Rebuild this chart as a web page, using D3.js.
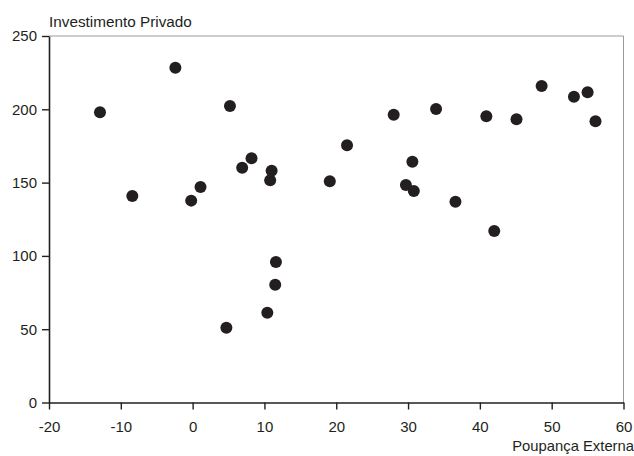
<!DOCTYPE html>
<html>
<head>
<meta charset="utf-8">
<script src="https://cdn.jsdelivr.net/npm/d3@7"></script>
<style>
  body { margin: 0; background: #fff; }
  text { font-family: "Liberation Sans", Arial, sans-serif; fill: #231f20; }
</style>
</head>
<body>
<svg width="634" height="456"></svg>
<script>
// poupanca externa (x) / investimento privado (y)
const poupanca = [-12.9, -8.4, -2.4, -0.2, 1.1, 4.7, 5.2, 6.9, 8.2, 10.4, 10.8, 11.0, 11.5, 11.6,
                  19.1, 21.5, 28.0, 29.7, 30.6, 30.8, 33.9, 36.6, 40.9, 42.0, 45.1, 48.6, 53.1, 55.0, 56.1];
const investimento = [198.0, 140.9, 228.4, 137.7, 147.0, 51.0, 202.3, 160.2, 166.6, 61.3, 151.6, 158.1, 80.4, 95.8,
                      150.9, 175.4, 196.3, 148.4, 164.3, 144.3, 200.2, 137.0, 195.2, 117.0, 193.2, 215.9, 208.6, 211.6, 191.8];
const xTicks = [-20, -10, 0, 10, 20, 30, 40, 50, 60];
const yTicks = [0, 50, 100, 150, 200, 250];

const margin = { top: 36, right: 10.5, bottom: 53.5, left: 49 },
      width = 634 - margin.left - margin.right,
      height = 456 - margin.top - margin.bottom;

const svg = d3.select("svg");
const g = svg.append("g").attr("transform", `translate(${margin.left},${margin.top})`);

let x = d3.scaleLinear().domain([-20, 60]).range([0, width]);
let y = d3.scaleLinear().domain([0, 250]).range([height, 0]);

// frame top and right (gray)
g.append("line").attr("x1", 0).attr("x2", width).attr("y1", 0).attr("y2", 0)
  .attr("stroke", "#9a9a9a").attr("stroke-width", 1);
g.append("line").attr("x1", width).attr("x2", width).attr("y1", 0).attr("y2", height)
  .attr("stroke", "#9a9a9a").attr("stroke-width", 1);

let xAxis = g.append("g")
  .attr("transform", `translate(0,${height})`)
  .call(d3.axisBottom(x).tickValues(xTicks).tickFormat(d => String(d))
    .tickSize(7).tickPadding(12).tickSizeOuter(0));
let yAxis = g.append("g")
  .call(d3.axisLeft(y).tickValues(yTicks).tickFormat(d => String(d))
    .tickSize(7).tickPadding(5).tickSizeOuter(0));

[xAxis, yAxis].forEach(a => {
  a.select(".domain").attr("stroke", "#231f20").attr("stroke-width", 1.6);
  a.selectAll(".tick line").attr("stroke", "#231f20").attr("stroke-width", 1.4);
  a.selectAll(".tick text").attr("font-size", 15).attr("fill", "#231f20")
    .attr("font-family", "'Liberation Sans', Arial, sans-serif");
});

g.selectAll("circle")
  .data(poupanca.map((d, i) => [d, investimento[i]]))
  .join("circle")
  .attr("cx", d => x(d[0]))
  .attr("cy", d => y(d[1]))
  .attr("r", 6)
  .attr("fill", "#231f20");

svg.append("text").attr("x", 49).attr("y", 26.5).attr("font-size", 15.3)
  .text("Investimento Privado");
svg.append("text").attr("x", 634).attr("y", 451).attr("font-size", 14.8)
  .attr("text-anchor", "end")
  .text("Poupança Externa");
</script>
</body>
</html>
